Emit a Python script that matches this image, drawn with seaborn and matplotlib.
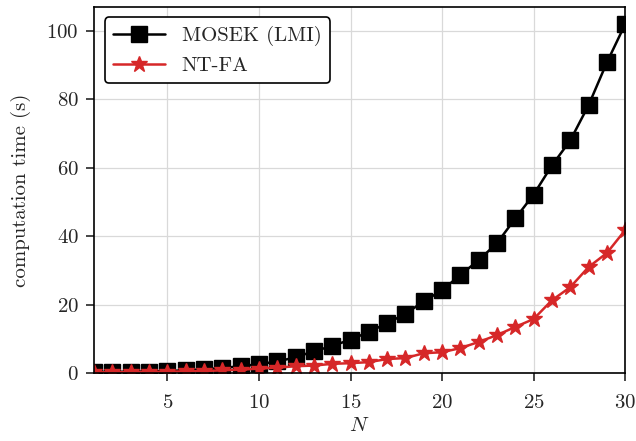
import matplotlib
matplotlib.use("Agg")
import matplotlib.pyplot as plt
import seaborn as sns
import pandas as pd

n_values = list(range(1, 31))
mosek_time = [0.3, 0.35, 0.4, 0.45, 0.6, 0.8, 1.1, 1.5, 2.0, 2.6,
              3.4, 4.6, 6.4, 7.9, 9.8, 12.0, 14.6, 17.3, 21.0, 24.2,
              28.7, 33.0, 38.0, 45.2, 52.2, 60.7, 68.0, 78.3, 90.8, 102.0]
ntfa_time = [0.2, 0.25, 0.3, 0.35, 0.4, 0.5, 0.6, 0.8, 1.0, 1.3,
             1.6, 2.0, 2.2, 2.7, 2.9, 3.2, 4.1, 4.4, 5.8, 6.1,
             7.3, 9.1, 11.1, 13.5, 15.8, 21.3, 25.1, 31.0, 35.1, 41.8]
labels = ["MOSEK (LMI)", "NT-FA"]

df = pd.DataFrame({"N": n_values * 2,
                   "time": mosek_time + ntfa_time,
                   "method": [labels[0]] * 30 + [labels[1]] * 30})

sns.set_style("ticks")
plt.rcParams["font.family"] = "serif"
plt.rcParams["font.serif"] = ["cmr10", "DejaVu Serif"]
plt.rcParams["mathtext.fontset"] = "cm"
plt.rcParams["axes.formatter.use_mathtext"] = True
plt.rcParams["font.size"] = 15
plt.rcParams["xtick.major.size"] = 6
plt.rcParams["ytick.major.size"] = 6
plt.rcParams["xtick.major.width"] = 1.2
plt.rcParams["ytick.major.width"] = 1.2

fig = plt.figure(figsize=(6.36, 4.41), dpi=100)
ax = fig.add_axes([0.148, 0.154, 0.835, 0.83])

sns.lineplot(data=df, x="N", y="time", hue="method", style="method",
             palette=["black", "#d62728"], markers=["s", "*"], dashes=False,
             markersize=12, markeredgewidth=1.0, linewidth=1.8, ax=ax)
for line in ax.lines:
    line.set_markersize(12)
    line.set_markeredgecolor(line.get_color())

ax.set_xlim(1, 30)
ax.set_ylim(0, 107)
ax.set_xticks([5, 10, 15, 20, 25, 30])
ax.set_yticks([0, 20, 40, 60, 80, 100])
ax.tick_params(axis="x", labelsize=15, pad=9)
ax.tick_params(axis="y", labelsize=15, pad=5)
ax.grid(True, color="#d9d9d9", linewidth=0.9)
ax.set_axisbelow(True)
ax.set_xlabel("$N$", labelpad=4)
ax.set_ylabel("computation time (s)", labelpad=11)
for s in ax.spines.values():
    s.set_linewidth(1.2)
    s.set_color("black")

leg = ax.legend(loc="upper left", fancybox=True, framealpha=1,
                edgecolor="black", fontsize=15, handlelength=2.5)
leg.get_frame().set_linewidth(1.2)
for h in leg.legend_handles:
    h.set_markeredgecolor(h.get_color())

fig.savefig("out.png", dpi=100)
